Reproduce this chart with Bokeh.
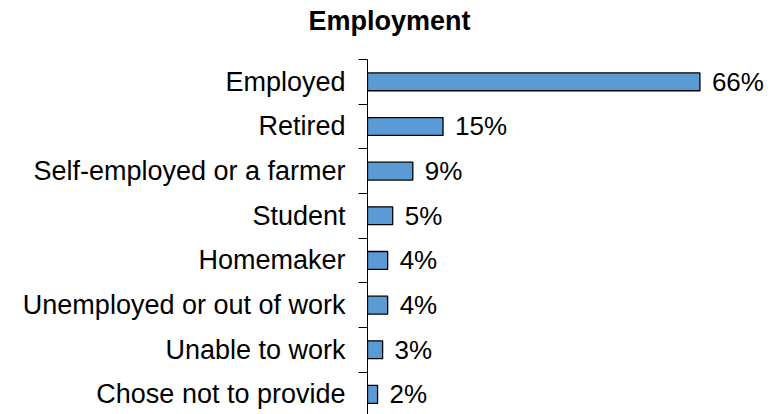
from bokeh.plotting import figure
from bokeh.models import FixedTicker, ColumnDataSource, Range1d, LinearAxis, Title
from bokeh.embed import file_html
from bokeh.resources import INLINE
from bokeh.core.properties import value

categories = ["Employed", "Retired", "Self-employed or a farmer", "Student",
              "Homemaker", "Unemployed or out of work", "Unable to work",
              "Chose not to provide"]
percentages = [66, 15, 9, 5, 4, 4, 3, 2]
value_labels = ["66%", "15%", "9%", "5%", "4%", "4%", "3%", "2%"]
title_text = "Employment"

n = len(categories)
ypos = [n - i - 0.5 for i in range(n)]
src = ColumnDataSource(dict(cat=categories, pct=percentages, y=ypos, lab=value_labels))

FONT = "Liberation Sans"

p = figure(width=781, height=414, output_backend="svg", toolbar_location=None,
           title=None,
           x_range=Range1d(0, 82.2), y_range=Range1d(0.05, n),
           x_axis_location=None, y_axis_location=None,
           min_border_left=367, min_border_right=0, min_border_top=59,
           min_border_bottom=0)
p.outline_line_color = None
p.xgrid.visible = False
p.ygrid.visible = False
p.background_fill_color = "white"
p.border_fill_color = "white"

p.hbar(y="y", left=0, right="pct", height=0.4, source=src,
       fill_color="#5B9BD5", line_color="black", line_width=1.3)
p.text(x="pct", y="y", text="lab", source=src, x_offset=12,
       text_baseline="middle", text_align="left",
       text_font=value(FONT), text_font_size="26px", text_color="black")

yaxis = LinearAxis(ticker=FixedTicker(ticks=ypos, minor_ticks=list(range(n + 1))))
yaxis.major_label_overrides = {y: c for y, c in zip(ypos, categories)}
yaxis.major_tick_out = 0
yaxis.major_tick_in = 0
yaxis.minor_tick_out = 9
yaxis.minor_tick_in = 0
yaxis.minor_tick_line_color = "black"
yaxis.axis_line_color = "black"
yaxis.axis_line_width = 1
yaxis.major_label_standoff = 13
yaxis.major_label_text_font = FONT
yaxis.major_label_text_font_size = "27px"
yaxis.major_label_text_color = "black"
p.add_layout(yaxis, "left")

# spacer between frame and title (nearest the frame)
spacer = Title(text=" ", text_font_size="1px", standoff=18, text_color="white")
p.add_layout(spacer, "above")

main_title = Title(text=title_text, align="left", vertical_align="bottom",
                   offset=-59, standoff=6, text_font=FONT,
                   text_font_size="27px", text_font_style="bold",
                   text_color="black")
p.add_layout(main_title, "above")

open("out.html", "w").write(file_html(p, INLINE))
